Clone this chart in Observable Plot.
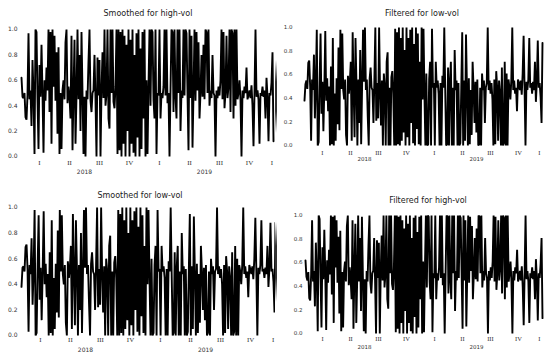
<!DOCTYPE html>
<html><head><meta charset="utf-8">
<script src="https://cdn.jsdelivr.net/npm/d3@7"></script>
<script src="https://cdn.jsdelivr.net/npm/@observablehq/plot@0.6"></script>
<style>
body{margin:0;background:#fff}
#root{position:relative;width:550px;height:363px;overflow:hidden;background:#fff}
.ttl{position:absolute;font-family:"DejaVu Sans",sans-serif;font-size:8px;color:#222;white-space:nowrap;transform:translate(-50%,-50%)}
.pn{position:absolute}
.edge{position:absolute;width:1.5px;background:linear-gradient(to bottom,rgba(0,0,0,0),rgba(0,0,0,.8) 30%,rgba(0,0,0,.8) 70%,rgba(0,0,0,0))}
</style></head>
<body><div id="root"></div>
<script>
const quarterLabels = ["I","II","III","IV","I","II","III","IV","I"];
const quarterPos = [0.5,1.5,2.5,3.5,4.5,5.5,6.5,7.5,8.25];
const yearLabels = ["2018","2019"];
const yearPos = [2,6];
const yTicks = [0,0.2,0.4,0.6,0.8,1.0];

const smoothedHigh = [.62,.47,.46,.50,.31,.29,.48,.97,.45,.52,.24,.76,.50,.02,1.0,.98,.46,
.06,.72,.47,.88,.50,.03,.60,.44,.70,.52,1.0,.35,.98,.10,1.0,.55,.95,.44,.82,.18,.86,.02,.50,
.06,.52,.60,.45,.90,1.0,.42,.55,.47,.30,.95,.05,.50,.92,.10,.48,1.0,.45,.80,.20,.98,.50,.02,.47,.0,.52,.45,
.75,1.0,.44,.35,.50,.52,.80,.45,.0,.78,.48,.76,.0,.52,.82,.46,1.0,.40,.49,1.0,.30,.22,1.0,.50,1.0,.43,.38,.55,
1.0,.02,1.0,.05,.98,.0,1.0,.10,.95,.0,.88,.20,1.0,.0,.92,.10,1.0,.03,.80,.0,.97,.15,1.0,.0,.85,.06,.98,.30,1.0,.0,.60,.02,.55,
1.0,.40,1.0,.98,.45,.30,1.0,.02,.50,.48,1.0,.30,
.50,.46,.55,1.0,.48,1.0,.42,.50,.0,.52,1.0,.98,
.35,1.0,.47,.30,1.0,.50,1.0,.20,.52,.46,1.0,.48,1.0,
.97,.50,.05,1.0,.46,.95,.07,.50,1.0,.44,.98,.52,.90,
.30,.50,.80,.47,.88,.45,1.0,.98,.50,1.0,.40,.52,
.46,.80,.50,.48,.0,.52,.46,.55,.48,.60,1.0,.45,
.98,.38,.50,.95,.46,.55,1.0,.35,1.0,.97,.30,1.0,.40,
1.0,.45,.50,.60,.45,.0,.52,.46,.55,.50,.70,.45,.48,
.52,.46,.56,.40,.08,.50,1.0,.47,.52,.45,.10,.50,
.48,.55,.47,.52,.30,.62,.47,.12,.50,.48,.58,.82,.12];

const smoothedLow = [.38,.53,.54,.50,.69,.71,.52,.03,.55,.48,.76,.24,.50,.98,.0,.02,.54,
.94,.28,.53,.12,.50,.97,.40,.56,.30,.48,.0,.65,.02,.90,.0,.45,.05,.56,.18,.82,.14,.98,.50,
.94,.48,.40,.55,.10,.0,.58,.45,.53,.70,.05,.95,.50,.08,.90,.52,.0,.55,.20,.80,.02,.50,.98,.53,1.0,.48,.55,
.25,.0,.56,.65,.50,.48,.20,.55,1.0,.22,.52,.24,1.0,.48,.18,.54,.0,.60,.51,.0,.70,.78,.0,.50,.0,.57,.62,.45,
.0,.98,.0,.95,.02,1.0,.0,.90,.05,1.0,.12,.80,.0,1.0,.08,.90,.0,.97,.20,1.0,.03,.85,.0,1.0,.15,.94,.02,.70,.0,1.0,.40,.98,.45,
.0,.60,.0,.02,.55,.70,.0,.98,.50,.52,.0,.70,
.50,.54,.45,.0,.52,.0,.58,.50,1.0,.48,.0,.02,
.65,.0,.53,.70,.0,.50,.0,.80,.48,.54,.0,.52,.0,
.03,.50,.95,.0,.54,.05,.93,.50,.0,.56,.02,.48,.10,
.70,.50,.20,.53,.12,.55,.0,.02,.50,.0,.60,.48,
.54,.20,.50,.52,1.0,.48,.54,.45,.52,.40,.0,.55,
.02,.62,.50,.05,.54,.45,.0,.65,.0,.03,.70,.0,.60,
.0,.55,.50,.40,.55,1.0,.48,.54,.45,.50,.30,.55,.52,
.48,.54,.44,.60,.92,.50,.0,.53,.48,.55,.90,.50,
.52,.45,.53,.48,.70,.38,.53,.88,.50,.52,.42,.18,.88];

const filteredHigh = [.62,.48,.45,.52,.30,.28,.50,.96,.44,.53,.23,.77,.49,.02,1.0,.97,.47,
.05,.73,.46,.88,.52,.03,.62,.43,.71,.50,1.0,.33,.99,.09,1.0,.56,.96,.43,.82,.17,.87,.02,.52,
.05,.53,.61,.44,.91,1.0,.41,.56,.46,.29,.96,.04,.51,.93,.09,.47,1.0,.44,.81,.19,.99,.49,.02,.46,.0,.53,.44,
.76,1.0,.43,.34,.51,.53,.81,.44,.0,.79,.47,.77,.0,.53,.83,.45,1.0,.39,.50,1.0,.29,.21,1.0,.51,1.0,.42,.37,.56,
1.0,.01,1.0,.04,.99,.0,1.0,.09,.96,.0,.89,.19,1.0,.0,.93,.09,1.0,.02,.81,.0,.98,.14,1.0,.0,.86,.05,.99,.29,1.0,.0,.61,.01,.56,
1.0,.39,1.0,.99,.44,.29,1.0,.01,.51,.47,1.0,.29,
.51,.45,.56,1.0,.47,1.0,.41,.51,.0,.53,1.0,.99,
.34,1.0,.46,.29,1.0,.51,1.0,.19,.53,.45,1.0,.47,1.0,
.98,.51,.04,1.0,.45,.96,.06,.51,1.0,.43,.99,.53,.91,
.29,.51,.81,.46,.89,.44,1.0,.99,.51,1.0,.39,.53,
.45,.81,.51,.47,.0,.53,.45,.56,.47,.61,1.0,.44,
.99,.37,.51,.96,.45,.56,1.0,.34,1.0,.98,.29,1.0,.39,
1.0,.44,.51,.61,.44,.0,.53,.45,.56,.51,.71,.44,.47,
.53,.45,.57,.39,.07,.51,1.0,.46,.53,.44,.09,.51,
.47,.56,.46,.53,.29,.63,.46,.11,.51,.47,.59,.81,.13];

const filteredLow = [.38,.52,.55,.48,.70,.72,.50,.04,.56,.47,.77,.23,.51,.98,.0,.03,.53,
.95,.27,.54,.12,.48,.97,.38,.57,.29,.50,.0,.67,.01,.91,.0,.44,.04,.57,.18,.83,.13,.98,.48,
.95,.47,.39,.56,.09,.0,.59,.44,.54,.71,.04,.96,.49,.07,.91,.53,.0,.56,.19,.81,.01,.51,.98,.54,1.0,.47,.56,
.24,.0,.57,.66,.49,.47,.19,.56,1.0,.21,.53,.23,1.0,.47,.17,.55,.0,.61,.50,.0,.71,.79,.0,.49,.0,.58,.63,.44,
.0,.99,.0,.96,.01,1.0,.0,.91,.04,1.0,.11,.81,.0,1.0,.07,.91,.0,.98,.19,1.0,.02,.86,.0,1.0,.14,.95,.01,.71,.0,1.0,.39,.99,.44,
.0,.61,.0,.01,.56,.71,.0,.99,.49,.53,.0,.71,
.49,.55,.44,.0,.53,.0,.59,.49,1.0,.47,.0,.01,
.66,.0,.54,.71,.0,.49,.0,.81,.47,.55,.0,.53,.0,
.02,.49,.96,.0,.55,.04,.94,.49,.0,.57,.01,.47,.09,
.71,.49,.19,.54,.11,.56,.0,.01,.49,.0,.61,.47,
.55,.19,.49,.53,1.0,.47,.55,.44,.53,.39,.0,.56,
.01,.63,.49,.04,.55,.44,.0,.66,.0,.02,.71,.0,.61,
.0,.56,.49,.39,.56,1.0,.47,.55,.44,.49,.29,.56,.53,
.47,.55,.43,.61,.93,.49,.0,.54,.47,.56,.91,.49,
.53,.44,.54,.47,.71,.37,.54,.89,.49,.53,.41,.19,.87];

const panels = [
 {title:"Smoothed for high-vol", data:smoothedHigh, left:0, top:0, w:275, h:182, ml:21, mr:2, mt:29, mb:26, dom:[-0.1,8.3], tx:148, ty:13, pad:4, fs:6, qfs:7, qdy:8, ydy:17},
 {title:"Filtered for low-vol", data:filteredLow, left:275, top:0, w:275, h:182, ml:29, mr:8, mt:27, mb:37, dom:[-0.14,8.36], tx:422, ty:13, pad:12, fs:5.5, qfs:6.5, qdy:9, ydy:15},
 {title:"Smoothed for low-vol", data:smoothedLow, left:0, top:182, w:275, h:181, ml:21, mr:0, mt:25, mb:28, dom:[-0.13,8.33], tx:140, ty:195, pad:4, fs:6, qfs:7, qdy:6, ydy:16},
 {title:"Filtered for high-vol", data:filteredHigh, left:275, top:182, w:275, h:181, ml:30, mr:8, mt:33, mb:30, dom:[-0.11,8.36], tx:428, ty:200, pad:3, fs:5.5, qfs:6.5, qdy:7, ydy:15}
];

const root = document.getElementById("root");
for (const p of panels) {
  const n = p.data.length;
  const step = (p.dom[1]-p.dom[0])/(n-1);
  const svg = Plot.plot({
    width:p.w, height:p.h,
    marginLeft:p.ml, marginRight:p.mr, marginTop:p.mt, marginBottom:p.mb,
    style:{fontFamily:"DejaVu Sans, sans-serif", background:"transparent", color:"#333"},
    x:{domain:p.dom, axis:null},
    y:{domain:[0,1], axis:null},
    marks:[
      Plot.line(p.data, {x:(d,i)=>p.dom[0]+i*step, y:d=>d, stroke:"#000", strokeWidth:1.9, strokeLinejoin:"miter"}),
      Plot.text(yTicks, {y:d=>d, text:d=>d.toFixed(1), frameAnchor:"left", textAnchor:"end", dx:-p.pad, fontSize:p.fs, fill:"#333"}),
      Plot.text(quarterLabels, {x:(d,i)=>quarterPos[i], text:d=>d, frameAnchor:"bottom", dy:p.qdy, fontSize:p.qfs, fontFamily:"Liberation Serif, serif", fill:"#333"}),
      Plot.text(yearLabels, {x:(d,i)=>yearPos[i], text:d=>d, frameAnchor:"bottom", dy:p.ydy, fontSize:p.fs, fill:"#333"})
    ]
  });
  const wrap = document.createElement("div");
  wrap.className = "pn";
  wrap.style.left = p.left+"px"; wrap.style.top = p.top+"px";
  wrap.appendChild(svg);
  root.appendChild(wrap);
  const t = document.createElement("div");
  t.className = "ttl";
  t.textContent = p.title;
  t.style.left = p.tx+"px"; t.style.top = p.ty+"px";
  root.appendChild(t);
}
for (const [y0,y1] of [[60,133],[222,302]]) {
  const e = document.createElement("div");
  e.className = "edge";
  e.style.left = "275px"; e.style.top = y0+"px"; e.style.height = (y1-y0)+"px";
  root.appendChild(e);
}
</script>
</body></html>
